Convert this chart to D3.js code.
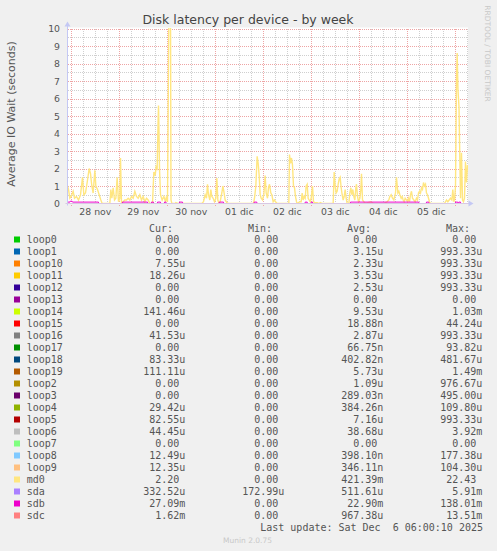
<!DOCTYPE html>
<html>
<head>
<meta charset="utf-8">
<script src="https://cdn.jsdelivr.net/npm/d3@7"></script>
<style>
  html, body { margin: 0; padding: 0; background: #f0f0f0; }
  svg { display: block; font-family: "DejaVu Sans", sans-serif; }
  .legend text { font-family: "DejaVu Sans Mono", monospace; font-size: 10px; fill: #555; white-space: pre; }
  .grid path { display: none; }
  .grid line { shape-rendering: crispEdges; }
</style>
</head>
<body>
<svg id="chart" width="497" height="551"></svg>
<script>

// graph window: last update Sat Dec 6 06:00, week view (200 hours)
const startTime = new Date(2025, 10, 27, 22, 20);
const endTime = new Date(2025, 11, 6, 6, 20);

const xTickDays = ["2025-11-28", "2025-11-29", "2025-11-30", "2025-12-01",
                   "2025-12-02", "2025-12-03", "2025-12-04", "2025-12-05"];
const xTickLabels = ["28 nov", "29 nov", "30 nov", "01 dic", "02 dic", "03 dic", "04 dic", "05 dic"];
const yTickValues = [0, 1, 2, 3, 4, 5, 6, 7, 8, 9, 10];

const seriesNames = ["loop0", "loop1", "loop10", "loop11", "loop12", "loop13", "loop14", "loop15",
                     "loop16", "loop17", "loop18", "loop19", "loop2", "loop3", "loop4", "loop5",
                     "loop6", "loop7", "loop8", "loop9", "md0", "sda", "sdb", "sdc"];
const seriesColors = ["#00CC00", "#0066B3", "#FF8000", "#FFCC00", "#330099", "#990099", "#CCFF00", "#FF0000",
                      "#808080", "#008F00", "#00487D", "#B35A00", "#B38F00", "#6B006B", "#8FB300", "#B30000",
                      "#BEBEBE", "#80FF80", "#80C9FF", "#FFC080", "#FFE680", "#AA80FF", "#EE00CC", "#FF8080"];
const curValues = ["0.00", "0.00", "7.55u", "18.26u", "0.00", "0.00", "141.46u", "0.00",
                   "41.53u", "0.00", "83.33u", "111.11u", "0.00", "0.00", "29.42u", "82.55u",
                   "44.45u", "0.00", "12.49u", "12.35u", "2.20", "332.52u", "27.09m", "1.62m"];
const minValues = ["0.00", "0.00", "0.00", "0.00", "0.00", "0.00", "0.00", "0.00",
                   "0.00", "0.00", "0.00", "0.00", "0.00", "0.00", "0.00", "0.00",
                   "0.00", "0.00", "0.00", "0.00", "0.00", "172.99u", "0.00", "0.00"];
const avgValues = ["0.00", "3.15u", "2.33u", "3.53u", "2.53u", "0.00", "9.53u", "18.88n",
                   "2.87u", "66.75n", "402.82n", "5.73u", "1.09u", "289.03n", "384.26n", "7.16u",
                   "38.68u", "0.00", "398.10n", "346.11n", "421.39m", "511.61u", "22.90m", "967.38u"];
const maxValues = ["0.00", "993.33u", "993.33u", "993.33u", "993.33u", "0.00", "1.03m", "44.24u",
                   "993.33u", "93.82u", "481.67u", "1.49m", "976.67u", "495.00u", "109.80u", "993.33u",
                   "3.92m", "0.00", "177.38u", "104.30u", "22.43", "5.91m", "138.01m", "13.51m"];

// [hours since startTime, seconds]
const md0Points = [
  [0,1.0],[0.5,0.8],[1.17,0.3],[1.83,0.4],[2.83,0.7],[3.5,0.3],[4.5,0.4],[5.5,0.2],[6.5,0.5],[7.5,1.5],
  [8.17,0.5],[9,0.6],[9.83,1.2],[10.83,2.0],[11.5,1.7],[12.17,1.0],[12.83,0.6],[13.67,1.9],[14.17,1.0],
  [15,0.8],[15.83,0.5],[16.67,0.2],[17.33,0],[21.17,0],[21.67,0.8],[22.17,0.3],[22.83,0.9],[23.5,0.2],
  [24.17,0.3],[24.83,1.5],[25.5,0.1],[26.17,0.3],[26.5,2.6],[27,0],[27.83,0.1],[28.67,0.2],[29.5,0.2],
  [30.33,0.3],[31.17,0.2],[32,0.4],[32.83,0.3],[33.67,0.7],[34.5,0.4],[35.33,0.3],[36.17,0.5],[37,0.2],
  [37.83,0.4],[38.67,0.1],[39.5,0.3],[40.33,0.2],[41.17,0],[42.5,0],[43.17,1.8],[43.83,1.6],[44.33,2.1],
  [44.83,2.0],[45.25,4.5],[45.5,5.6],[45.75,4.0],[46,2.0],[46.5,0.5],[47.33,0.2],[48.17,0.4],[49,0.1],
  [49.5,0.4],[50,0.1],[50.75,12.0],[51.25,22.43],[51.75,0.2],[52.17,0],[54,0],[54.17,0.05],[55.17,0],
  [67.17,0],[68,0.1],
  [68.83,0.5],[69.5,0.3],[70,1.1],[70.5,0.5],[71.17,0.2],[71.67,0.8],[72.17,0.4],[72.83,0.3],[73.5,0.1],
  [74.17,0.3],[74.67,1.45],[75.17,0.2],[75.83,0],[76.33,0.1],[77.17,0.6],[77.67,1.0],[78.17,0.7],
  [78.83,0.2],[79.67,0.05],[80.5,0],[93,0],[93.5,0.3],[94.17,1.0],[94.83,2.7],[95.33,2.3],[95.83,1.6],
  [96.33,0.5],[96.83,0.3],[97.5,0.2],[98.17,0.5],[98.83,1.6],[99.33,0.6],[100,0.3],[100.5,0.9],[101,1.1],
  [101.67,0.6],[102.17,0.5],[102.83,0.1],[103.5,0.2],[104,0.1],[104.83,0],[110.67,0],[111,2.8],
  [111.5,2.3],[112,2.6],[112.5,2.2],[113,1.0],[113.5,0.9],[114,0.4],[114.5,0.1],[114.83,0],[116.17,0.1],
  [116.83,0.1],[117.33,0.6],[117.83,0.2],[118.33,0.4],[118.83,0.3],[119.33,1.0],[119.83,1.1],[120.33,0.3],
  [120.83,0.2],[121.33,0.1],[121.83,0.3],[122.5,1.0],[123,0.1],[123.67,0.05],[124.83,0.05],[125.67,0],
  [126.5,0.05],[127.33,0],[132.83,0],[133.33,1.8],[133.83,1.0],[134.33,0.6],[134.83,0.7],[135.33,1.1],
  [135.83,1.4],[136.33,1.5],[136.83,0.9],[137.33,0.5],[137.83,0.2],[138.33,0.4],[138.83,0.8],[139.33,0.3],
  [139.83,0],[140.67,0],[141.17,0.6],[141.67,0.9],[142.17,0.5],[142.67,0.8],[143.17,0.4],[143.67,0.2],
  [144.17,0.9],[144.5,1.1],[145,0.4],[145.5,0.1],[146.17,0.3],[146.67,0.8],[147,1.7],[147.5,0.2],
  [148.17,0.1],[149,0],[151.5,0.1],[152.33,0.05],[153.17,0],[158.17,0],[159,0.05],[159.83,0.1],
  [160.67,0.2],[161.17,0.4],[161.83,0.5],[162.5,0.3],[163.17,0.2],[164,0.6],[164.5,1.5],[165.17,0.6],
  [165.67,0.7],[166.17,0.5],[166.83,0.3],[167.33,0.4],[167.83,0.2],[168.33,0.1],[168.83,0.3],[169.5,0.2],
  [170,0.1],[170.5,0.3],[171,0.1],[171.5,0.5],[172,0.7],[172.5,0.3],[173.17,0.2],[173.83,0.1],[174.5,0.3],
  [175,0.2],[175.5,0.6],[176,0.7],[176.5,0.6],[177,0.9],[177.5,0.8],[178,1.2],[178.5,1.0],[179,1.1],
  [179.5,0.6],[180,0.5],[180.5,0.3],[181,0.1],[181.5,0],[188.5,0],[189,0.1],[189.5,0.2],[190.17,0.1],
  [190.83,0.2],[191.5,0.3],[192.17,0.2],[192.67,0.8],[193.17,0.1],[193.6,0.3],[194,1.0],[194.5,7.0],
  [194.83,8.6],[195.25,6.5],[195.75,5.5],[196.25,2.0],[196.5,0.3],[197,2.9],[197.5,0.2],[198,0.1],
  [198.5,0.3],[199,2.4],[199.5,1.2],[200,2.2]
];

const sdbPoints = [
  [0,0.08],[1.2,0.08],[1.4,0.13],[2.3,0.13],[2.5,0.08],[15.5,0.08],[15.6,0],[27.4,0],[27.5,0.08],
  [40,0.08],[40.1,0],[41.9,0],[42,0.08],[43,0.08],[43.1,0],[44.9,0],[45,0.08],[46.5,0.08],[46.6,0],
  [48.4,0],[48.5,0.08],[49.25,0.08],[49.35,0],[55.9,0],[56,0.08],[57.5,0.08],[57.6,0],[75.75,0],
  [75.85,0.08],[78,0.08],[78.1,0],[93.25,0],[93.35,0.08],[94.65,0.08],[94.75,0],[118.75,0],[118.85,0.08],
  [119.85,0.08],[119.95,0],[121.75,0],[121.85,0.08],[122.5,0.08],[122.6,0],[141.4,0],[141.5,0.08],
  [175.65,0.08],[175.75,0],[179.4,0],[179.5,0.08],[180.65,0.08],[180.75,0],[193.9,0],[194,0.08],
  [195.15,0.08],[195.25,0],[195.55,0],[195.65,0.08],[196.5,0.08],[196.6,0],[200,0]
];

// every other device stays at ~0 on this scale
const flatPoints = [[0, 0], [200, 0]];

function makeChart() {

    /**********************
    ***** BASIC SETUP *****
    **********************/

    const svg = d3.select("#chart");
    const plotLeft = 67.5, plotRight = 467.5, plotTop = 28.5, plotBottom = 203.5;
    const plotWidth = plotRight - plotLeft;
    const plotHeight = plotBottom - plotTop;

    const toDate = h => new Date(startTime.getTime() + h * 3600e3);

    /***********************
    ***** X & Y SCALES *****
    ***********************/

    const xScale = d3.scaleTime()
        .domain([startTime, endTime])
        .range([plotLeft, plotRight]);

    const yScale = d3.scaleLinear()
        .domain([0, 10])
        .range([plotBottom, plotTop]);

    // plot canvas
    svg.append("rect")
        .attr("x", plotLeft - 0.5)
        .attr("y", plotTop - 1)
        .attr("width", plotWidth + 1)
        .attr("height", plotHeight + 1)
        .attr("fill", "#ffffff");

    /**************
    ***** GRID *****
    **************/

    const minorX = d3.timeHour.every(6).range(startTime, endTime);
    const majorX = d3.timeDay.range(startTime, endTime);
    const minorY = d3.range(0.5, 10, 1);

    function gridLines(g, colour) {
        g.selectAll("line")
            .attr("stroke", colour)
            .attr("stroke-dasharray", "1,1");
    }

    svg.append("g")
        .attr("class", "grid")
        .attr("transform", `translate(0, ${plotBottom})`)
        .call(d3.axisBottom(xScale).tickValues(minorX).tickSize(-plotHeight).tickFormat(""))
        .call(gridLines, "#cfcfcf");

    svg.append("g")
        .attr("class", "grid")
        .attr("transform", `translate(${plotLeft}, 0)`)
        .call(d3.axisLeft(yScale).tickValues(minorY).tickSize(-plotWidth).tickFormat(""))
        .call(gridLines, "#cfcfcf");

    svg.append("g")
        .attr("class", "grid")
        .attr("transform", `translate(${plotLeft}, 0)`)
        .call(d3.axisLeft(yScale).tickValues(yTickValues.slice(1)).tickSize(-plotWidth).tickFormat(""))
        .call(gridLines, "#eea4a4");

    svg.append("g")
        .attr("class", "grid")
        .attr("transform", `translate(0, ${plotBottom + 2})`)
        .call(d3.axisBottom(xScale).tickValues(majorX).tickSize(-(plotHeight + 2)).tickFormat(""))
        .call(gridLines, "#eea4a4");

    /*****************
    ***** AXES *******
    *****************/

    const yAxis = svg.append("g")
        .attr("transform", `translate(${plotLeft}, 0)`)
        .call(d3.axisLeft(yScale).tickValues(yTickValues).tickSize(0).tickPadding(7.5));
    yAxis.select(".domain").remove();
    yAxis.selectAll("text")
        .attr("font-family", "DejaVu Sans")
        .attr("font-size", "9.33px")
        .attr("fill", "#555");

    const noonTicks = xTickDays.map(d => d3.timeHour.offset(d3.timeParse("%Y-%m-%d")(d), 12));
    const xAxis = svg.append("g")
        .attr("transform", `translate(0, ${plotBottom})`)
        .call(d3.axisBottom(xScale).tickValues(noonTicks).tickSize(0).tickPadding(5)
            .tickFormat((d, i) => xTickLabels[i]));
    xAxis.select(".domain").remove();
    xAxis.selectAll("text")
        .attr("font-family", "DejaVu Sans")
        .attr("font-size", "9.33px")
        .attr("fill", "#555");

    /****************
    ***** LINES *****
    *****************/

    svg.append("clipPath")
        .attr("id", "plotClip")
        .append("rect")
        .attr("x", plotLeft - 0.5)
        .attr("y", plotTop - 0.5)
        .attr("width", plotWidth + 1)
        .attr("height", plotHeight + 1);

    const line = d3.line()
        .x(d => xScale(toDate(d[0])))
        .y(d => yScale(d[1]));

    const plot = svg.append("g")
        .attr("clip-path", "url(#plotClip)");

    seriesNames.forEach(function(name, i) {
        let pts = flatPoints;
        if (name === "md0") pts = md0Points;
        if (name === "sdb") pts = sdbPoints;
        plot.append("path")
            .datum(pts)
            .attr("fill", "none")
            .attr("stroke", seriesColors[i])
            .attr("stroke-width", name === "md0" ? 1.4 : 1)
            .attr("d", line);
    });

    // axis lines + arrows
    svg.append("line")
        .attr("x1", plotLeft).attr("x2", plotLeft)
        .attr("y1", plotBottom + 2).attr("y2", plotTop - 4)
        .attr("stroke", "#c4c8f4");
    svg.append("line")
        .attr("x1", plotLeft - 2).attr("x2", plotRight + 2)
        .attr("y1", plotBottom).attr("y2", plotBottom)
        .attr("stroke", "#d8c8e4");
    svg.append("path")
        .attr("d", `M${plotLeft - 3},${plotTop - 2} L${plotLeft + 3},${plotTop - 2} L${plotLeft},${plotTop - 7} Z`)
        .attr("fill", "#c4c8f4");
    svg.append("path")
        .attr("d", `M${plotRight + 1},${plotBottom - 3} L${plotRight + 1},${plotBottom + 3} L${plotRight + 6},${plotBottom} Z`)
        .attr("fill", "#c4c8f4");

    /*************************
    ***** TITLE, CAPTION *****
    *************************/

    svg.append("text")
        .text("Disk latency per device - by week")
        .attr("x", 248)
        .attr("y", 24)
        .attr("text-anchor", "middle")
        .attr("font-size", "12.5px")
        .attr("fill", "#444");

    svg.append("text")
        .text("Average IO Wait (seconds)")
        .attr("transform", "translate(15, 114) rotate(-90)")
        .attr("text-anchor", "middle")
        .attr("font-size", "11px")
        .attr("fill", "#555");

    svg.append("text")
        .text("RRDTOOL / TOBI OETIKER")
        .attr("transform", "translate(484.5, 53.5) rotate(90)")
        .attr("text-anchor", "middle")
        .attr("font-size", "7.5px")
        .attr("fill", "#c8c8c8");

    /******************
    ***** LEGEND ******
    ******************/

    const legend = svg.append("g").attr("class", "legend");
    const colEdges = [185.3, 284.3, 383.3, 482.3];
    const headers = ["Cur:", "Min:", "Avg:", "Max:"];
    const pad = s => /[0-9]$/.test(s) ? s + " " : s;

    headers.forEach(function(h, j) {
        legend.append("text")
            .text(h)
            .attr("x", colEdges[j] - 36.3)
            .attr("y", 231.5);
    });

    const rows = legend.selectAll(".row")
        .data(seriesNames)
        .enter()
        .append("g")
        .attr("class", "row")
        .attr("transform", (d, i) => `translate(0, ${243 + i * 12})`);

    rows.append("rect")
        .attr("x", 14)
        .attr("y", -6.5)
        .attr("width", 6)
        .attr("height", 6)
        .attr("fill", (d, i) => seriesColors[i]);

    rows.append("text")
        .attr("x", 26.7)
        .text(d => d);

    [curValues, minValues, avgValues, maxValues].forEach(function(col, j) {
        rows.append("text")
            .attr("x", colEdges[j])
            .attr("text-anchor", "end")
            .text((d, i) => pad(col[i]));
    });

    legend.append("text")
        .text("Last update: Sat Dec  6 06:00:10 2025")
        .attr("x", 483)
        .attr("y", 531)
        .attr("text-anchor", "end");

    svg.append("text")
        .text("Munin 2.0.75")
        .attr("x", 247.5)
        .attr("y", 543)
        .attr("text-anchor", "middle")
        .attr("font-size", "7.5px")
        .attr("fill", "#c8c8c8");
}

makeChart();
</script>
</body>
</html>
